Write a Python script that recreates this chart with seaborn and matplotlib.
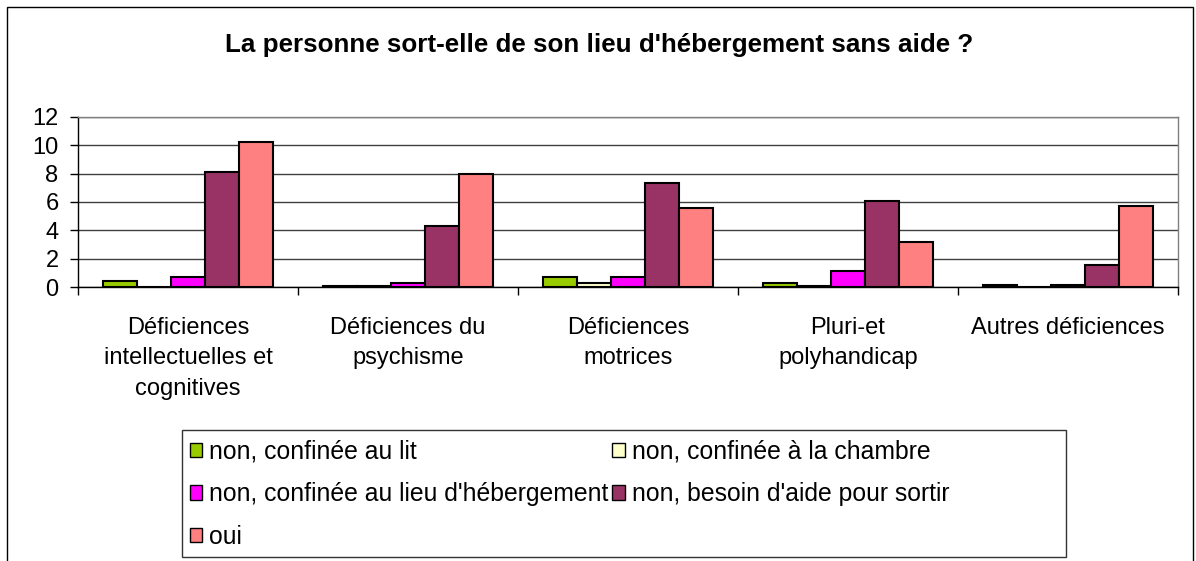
import numpy as np
import pandas as pd
import matplotlib
matplotlib.use("Agg")
import matplotlib.pyplot as plt
from matplotlib.patches import Rectangle, Patch
import seaborn as sns

title = "La personne sort-elle de son lieu d'hébergement sans aide ?"
categories = ["Déficiences\nintellectuelles et\ncognitives",
              "Déficiences du\npsychisme",
              "Déficiences\nmotrices",
              "Pluri-et\npolyhandicap",
              "Autres déficiences"]
series = ["non, confinée au lit",
          "non, confinée à la chambre",
          "non, confinée au lieu d'hébergement",
          "non, besoin d'aide pour sortir",
          "oui"]
lit = [0.4, 0.1, 0.7, 0.3, 0.15]
chambre = [0.0, 0.1, 0.3, 0.1, 0.0]
lieu = [0.7, 0.3, 0.7, 1.1, 0.15]
aide = [8.1, 4.3, 7.35, 6.1, 1.55]
oui = [10.2, 8.0, 5.55, 3.2, 5.7]
colors = ["#99CC00", "#FFFFCC", "#FF00FF", "#993366", "#FF8080"]
yticks = [0, 2, 4, 6, 8, 10, 12]

values = [lit, chambre, lieu, aide, oui]
rows = []
for s, vals in zip(series, values):
    for c, v in zip(categories, vals):
        rows.append({"cat": c, "serie": s, "val": v})
df = pd.DataFrame(rows)

sns.set_theme(style="white")
plt.rcParams["font.family"] = ["Liberation Sans", "DejaVu Sans"]
plt.rcParams["text.color"] = "black"
plt.rcParams["xtick.color"] = "black"
plt.rcParams["ytick.color"] = "black"

W, H = 1196, 561
fig = plt.figure(figsize=(W / 100, H / 100), dpi=100)
fig.patch.set_facecolor("white")

ax = fig.add_axes([78 / W, 1 - 287 / H, 1100 / W, 170 / H])
sns.barplot(data=df, x="cat", y="val", hue="serie", order=categories,
            hue_order=series, palette=colors, saturation=1, width=0.77,
            gap=0, edgecolor="black", linewidth=1.5, ax=ax, legend=False,
            errorbar=None)

ax.set_xlim(-0.5, 4.5)
ax.set_ylim(0, 12)
ax.set_yticks(yticks)
ax.set_yticklabels([str(t) for t in yticks], fontsize=17, color="black")
ax.set_xlabel("")
ax.set_ylabel("")
ax.set_axisbelow(True)
ax.yaxis.grid(True, color="#404040", lw=1)
ax.xaxis.grid(False)
ax.tick_params(axis="y", direction="out", length=6, width=1, color="black",
               pad=8, left=True)
ax.tick_params(axis="x", which="major", length=0, pad=21.5, labelsize=17,
               labelcolor="black")
ax.set_xticks(np.arange(-0.5, 5.0, 1.0), minor=True)
ax.tick_params(axis="x", which="minor", direction="out", length=6, width=1,
               color="black", bottom=True)
for lbl in ax.get_xticklabels():
    lbl.set_linespacing(1.5)
    lbl.set_ha("center")
for side in ["left", "bottom"]:
    ax.spines[side].set_color("black")
    ax.spines[side].set_linewidth(1)
for side in ["top", "right"]:
    ax.spines[side].set_color("#808080")
    ax.spines[side].set_linewidth(1)

fig.text(599 / W, 1 - 45 / H, title, ha="center", va="center",
         fontsize=18.7, fontweight="bold", color="black")

# outer chart frame
fig.patches.append(Rectangle((7 / W, -0.05), (1193 - 7) / W, 1 - 7 / H + 0.05,
                             transform=fig.transFigure, fill=False,
                             ec="black", lw=1))
# legend frame
fig.patches.append(Rectangle((182 / W, 1 - 557 / H), (1066 - 182) / W, 127 / H,
                             transform=fig.transFigure, fill=False,
                             ec="#333333", lw=1))

handles = [Patch(facecolor=c, edgecolor="black", lw=1) for c in colors]
order = [0, 2, 4, 1, 3]
fig.legend([handles[i] for i in order], [series[i] for i in order], ncol=2,
           loc="upper left", bbox_to_anchor=(190 / W, 1 - 440 / H),
           frameon=False, fontsize=17.8, handlelength=0.5, handleheight=0.5,
           handletextpad=0.28, columnspacing=0.15, labelspacing=0.74,
           borderpad=0, borderaxespad=0)

fig.savefig("out.png", dpi=100)
